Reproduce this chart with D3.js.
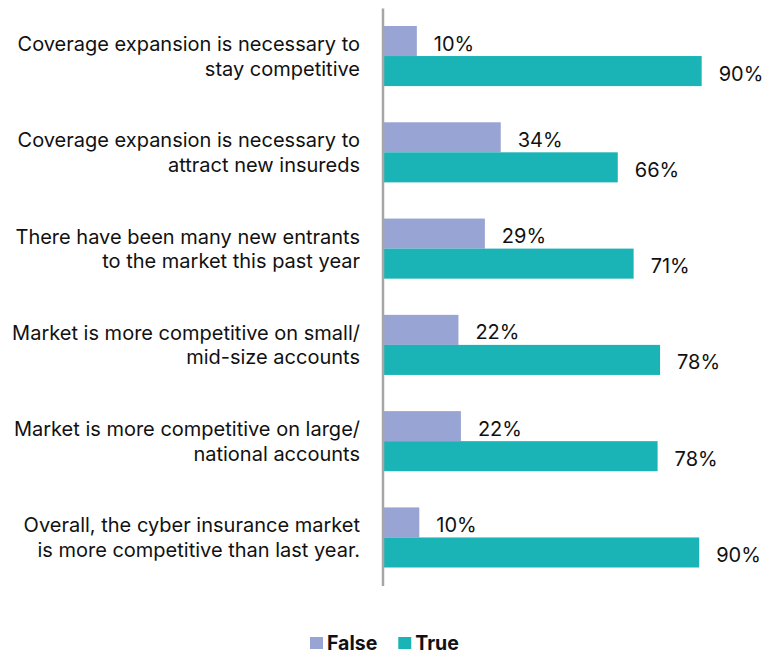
<!DOCTYPE html>
<html><head><meta charset="utf-8">
<script src="https://cdn.jsdelivr.net/npm/d3@7"></script>
<style>body{margin:0;background:#fff} svg{display:block}</style>
</head><body><div id="chart"></div>
<script>
const categories = ["c1","c2","c3","c4","c5","c6"];
const categoryLines = [
  ["Coverage expansion is necessary to", "stay competitive"],
  ["Coverage expansion is necessary to", "attract new insureds"],
  ["There have been many new entrants", "to the market this past year"],
  ["Market is more competitive on small/", "mid-size accounts"],
  ["Market is more competitive on large/", "national accounts"],
  ["Overall, the cyber insurance market", "is more competitive than last year."]
];
const seriesNames = ["False", "True"];
const falseValues = [9.6, 33.4, 28.9, 21.4, 22.1, 10.3];
const trueValues = [90.4, 66.6, 71.1, 78.6, 77.9, 89.7];
const falseLabels = ["10%", "34%", "29%", "22%", "22%", "10%"];
const trueLabels = ["90%", "66%", "71%", "78%", "78%", "90%"];
const seriesColors = ["#98a4d3", "#1ab3b6"];

const W = 777, H = 654;
const svg = d3.select("#chart").append("svg").attr("width", W).attr("height", H);

const x = d3.scaleLinear().domain([0, 100]).range([383, 735.5]);
const y = d3.scaleBand().domain(categories).range([8, 585.5]).paddingInner(0.376).paddingOuter(0.187);
const ySub = d3.scaleBand().domain(seriesNames).range([0, y.bandwidth()]);
const color = d3.scaleOrdinal().domain(seriesNames).range(seriesColors);

const rows = categories.map((c, i) => ({
  cat: c,
  lines: categoryLines[i],
  items: [
    {s: "False", v: falseValues[i], label: falseLabels[i]},
    {s: "True", v: trueValues[i], label: trueLabels[i]}
  ]
}));

const font = "Inter, 'Noto Sans', sans-serif";

const g = svg.selectAll("g.row").data(rows).join("g")
  .attr("class", "row")
  .attr("transform", d => `translate(0,${y(d.cat)})`);

g.selectAll("rect").data(d => d.items).join("rect")
  .attr("x", x(0))
  .attr("y", d => ySub(d.s))
  .attr("width", d => x(d.v) - x(0))
  .attr("height", ySub.bandwidth())
  .attr("fill", d => color(d.s));

g.selectAll("text.val").data(d => d.items).join("text")
  .attr("class", "val")
  .attr("x", d => x(d.v) + 17)
  .attr("y", d => ySub(d.s) + ySub.bandwidth() / 2 + 9.5)
  .attr("font-family", font)
  .attr("font-size", 20)
  .attr("fill", "#111")
  .text(d => d.label);

// category labels
g.append("text")
  .attr("text-anchor", "end")
  .attr("font-family", font)
  .attr("font-size", 20)
  .attr("fill", "#111")
  .selectAll("tspan").data(d => d.lines).join("tspan")
  .attr("x", 360)
  .attr("y", (d, i) => y.bandwidth() / 2 - 5 + i * 24.5)
  .text(d => d);

// axis line
const axis = d3.axisLeft(y).tickSize(0).tickSizeOuter(0).tickFormat("");
const ag = svg.append("g").attr("transform", `translate(${x(0) - 0.5},0)`).call(axis);
ag.select(".domain").attr("stroke", "#a6a6a6").attr("stroke-width", 2.5);

// legend
const lg = svg.append("g").attr("transform", "translate(310,0)");
let lx = 0;
seriesNames.forEach(s => {
  lg.append("rect").attr("x", lx).attr("y", 637).attr("width", 13).attr("height", 12).attr("fill", color(s));
  const t = lg.append("text").attr("x", lx + 17).attr("y", 650)
    .attr("font-family", font).attr("font-size", 19.5).attr("font-weight", "bold").attr("fill", "#111").text(s);
  lx += 17 + t.node().getComputedTextLength() + 21;
});
</script></body></html>
